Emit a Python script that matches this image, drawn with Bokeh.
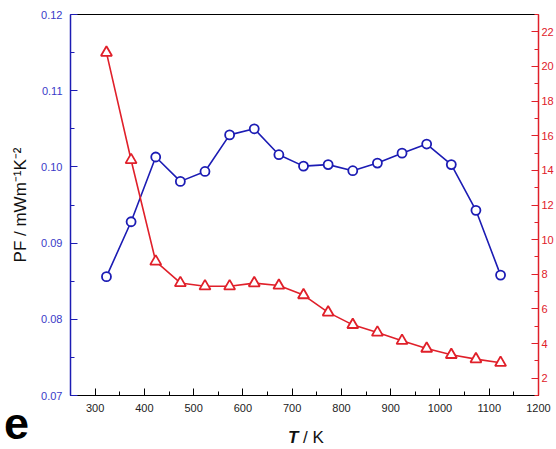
from bokeh.plotting import figure
from bokeh.models import LinearAxis, Range1d, FixedTicker, PrintfTickFormatter, Div
from bokeh.layouts import column
from bokeh.embed import file_html
from bokeh.resources import INLINE

# ---- data ----
T = [323, 373, 423, 473, 523, 573, 623, 673, 723, 773, 823, 873, 923, 973, 1023, 1073, 1123]
PF = [0.0856, 0.0928, 0.1013, 0.0981, 0.0994, 0.1042, 0.1050, 0.1016, 0.1001, 0.1003,
      0.0995, 0.1005, 0.1018, 0.1030, 0.1003, 0.0943, 0.0858]
right_series = [20.8, 14.6, 8.74, 7.5, 7.31, 7.31, 7.49, 7.35, 6.8, 5.8,
                5.08, 4.64, 4.16, 3.71, 3.35, 3.1, 2.89]
x_ticks = [300, 400, 500, 600, 700, 800, 900, 1000, 1100, 1200]
left_ticks = [0.07, 0.08, 0.09, 0.10, 0.11, 0.12]
right_ticks = [2, 4, 6, 8, 10, 12, 14, 16, 18, 20, 22]

BLUE = "#1c1cb4"
RED = "#e0202a"
FONT = "Liberation Sans"

fig = figure(width=556, height=416, output_backend="svg", toolbar_location=None,
             x_range=Range1d(250, 1200), y_range=Range1d(0.07, 0.12),
             min_border_left=70, min_border_right=16, min_border_top=14, min_border_bottom=21)
fig.extra_y_ranges = {"r": Range1d(1, 23)}
fig.outline_line_color = None
fig.grid.visible = False
fig.background_fill_color = "white"
fig.border_fill_color = "white"

# bottom axis
xa = fig.xaxis[0]
xa.ticker = FixedTicker(ticks=x_ticks, minor_ticks=list(range(250, 1201, 50)))
xa.axis_line_color = "black"
xa.major_tick_line_color = "black"
xa.minor_tick_line_color = "black"
xa.major_tick_in = 7
xa.major_tick_out = 0
xa.minor_tick_in = 4
xa.minor_tick_out = 0
xa.major_label_text_font = FONT
xa.major_label_text_font_size = "11px"
xa.major_label_text_color = "#222222"
xa.major_label_standoff = 8

# left axis
ya = fig.yaxis[0]
ya.ticker = FixedTicker(ticks=left_ticks, minor_ticks=[0.075, 0.085, 0.095, 0.105, 0.115])
ya.formatter = PrintfTickFormatter(format="%.2f")
ya.axis_line_color = BLUE
ya.axis_line_width = 1.5
ya.major_tick_line_color = BLUE
ya.minor_tick_line_color = BLUE
ya.major_tick_in = 7
ya.major_tick_out = 0
ya.minor_tick_in = 4
ya.minor_tick_out = 0
ya.major_label_text_font = FONT
ya.major_label_text_font_size = "11px"
ya.major_label_text_color = "#3a3ac8"
ya.major_label_standoff = 8
ya.axis_label = "PF / mWm\u207b\u00b9K\u207b\u00b2"
ya.axis_label_text_font = FONT
ya.axis_label_text_font_size = "17px"
ya.axis_label_text_font_style = "normal"
ya.axis_label_text_color = "#111111"
ya.axis_label_standoff = 8

# right axis
ra = LinearAxis(y_range_name="r",
                ticker=FixedTicker(ticks=right_ticks, minor_ticks=list(range(1, 24, 1))))
ra.axis_line_color = RED
ra.axis_line_width = 1.5
ra.major_tick_line_color = RED
ra.minor_tick_line_color = RED
ra.major_tick_in = 7
ra.major_tick_out = 0
ra.minor_tick_in = 4
ra.minor_tick_out = 0
ra.major_label_text_font = FONT
ra.major_label_text_font_size = "11px"
ra.major_label_text_color = RED
ra.major_label_standoff = 3
fig.add_layout(ra, "right")

# top frame line
ta = LinearAxis(ticker=FixedTicker(ticks=[]))
ta.axis_line_color = "black"
ta.major_tick_line_color = None
ta.minor_tick_line_color = None
ta.major_label_text_font_size = "0px"
ta.major_label_standoff = 0
fig.add_layout(ta, "above")

# series
fig.line(T, PF, line_color=BLUE, line_width=1.6)
fig.scatter(T, PF, marker="circle", size=9, fill_color="white", line_color=BLUE, line_width=1.8)
fig.line(T, right_series, y_range_name="r", line_color=RED, line_width=1.6)
fig.scatter(T, right_series, y_range_name="r", marker="triangle", size=11,
            fill_color="white", line_color=RED, line_width=1.8)

# x axis title (bold italic T) and panel letter, below the figure
below = Div(
    text=('<div style="position:relative;width:556px;height:33px;">'
          '<span style="position:absolute;left:4px;top:0px;font-family:\'Liberation Sans\',Arial,sans-serif;'
          'font-weight:bold;font-size:45px;line-height:16px;color:#000;">e</span>'
          '<span style="position:absolute;left:288px;top:12px;font-family:\'Liberation Sans\',Arial,sans-serif;'
          'font-size:17px;line-height:20px;color:#111;white-space:nowrap;">'
          '<b><i>T</i></b> / K</span></div>'),
    width=556, height=33, margin=(0, 0, 0, 0))

p = column(fig, below, spacing=0)

open("out.html", "w").write(file_html(p, INLINE))
